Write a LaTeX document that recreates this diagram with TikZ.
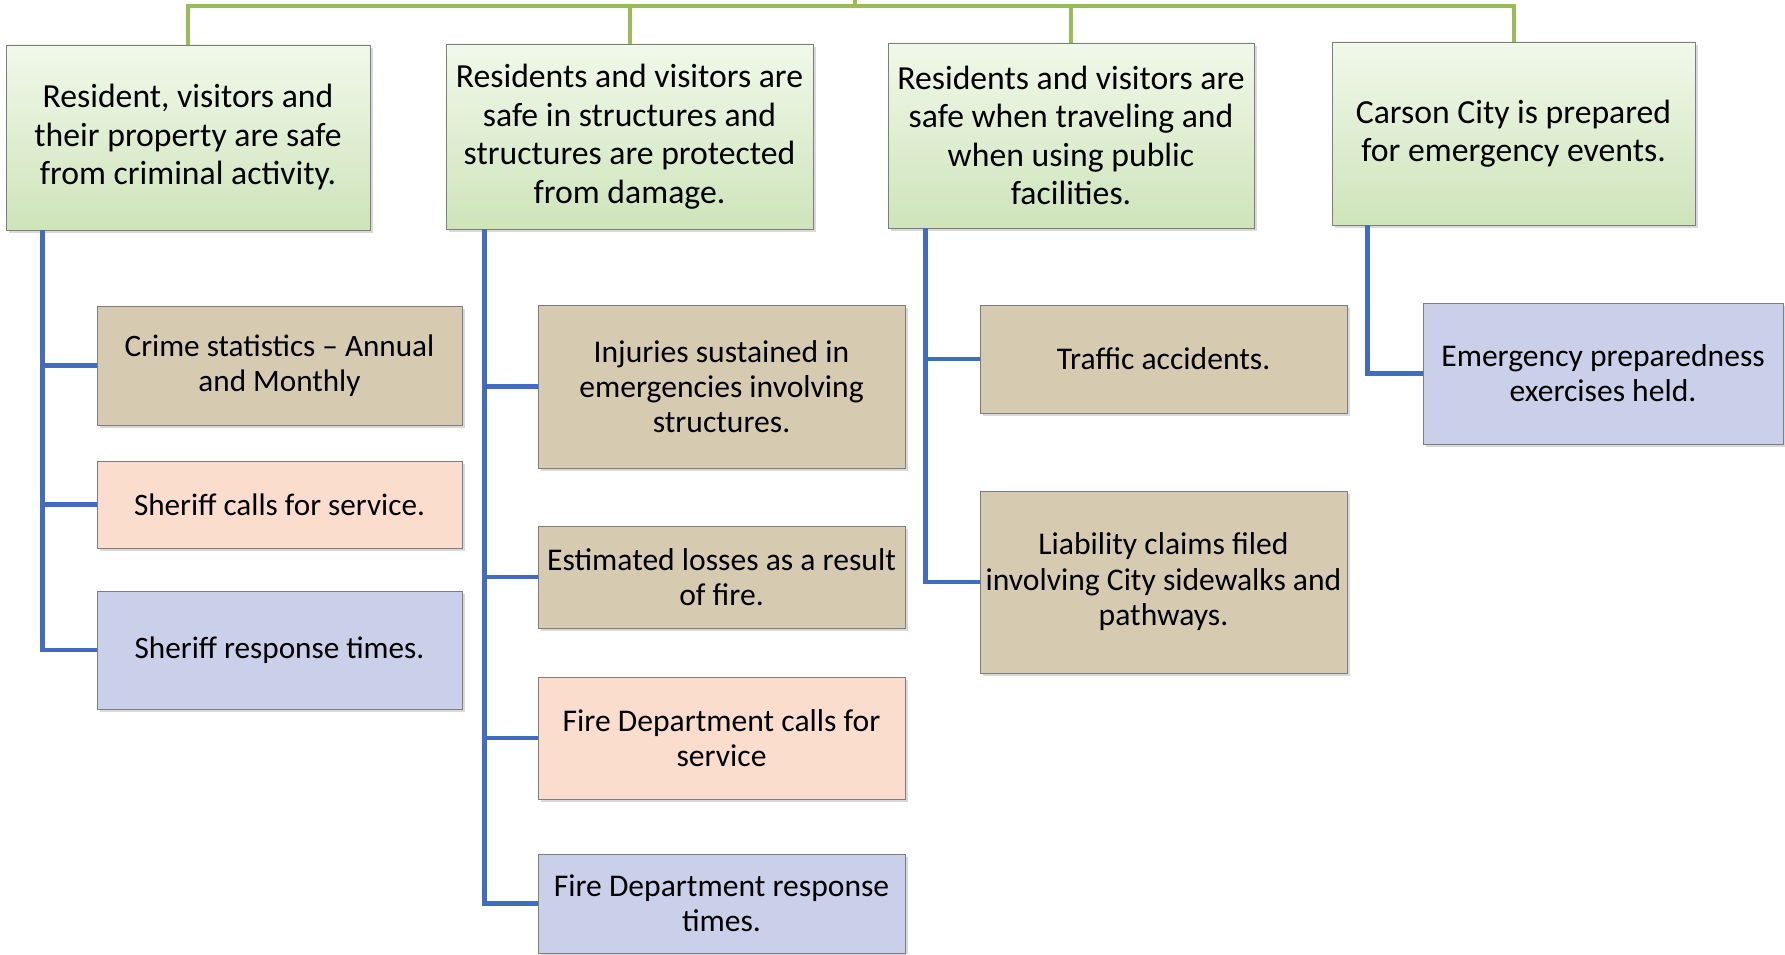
\documentclass[tikz,border=0pt]{standalone}
\usepackage{fontspec}
\setmainfont{Carlito}
\usetikzlibrary{shadows}
\definecolor{gline}{RGB}{155,187,89}
\definecolor{bline}{RGB}{66,108,192}
\definecolor{tanc}{RGB}{214,203,176}
\definecolor{peach}{RGB}{251,221,205}
\definecolor{lav}{RGB}{202,208,233}
\definecolor{gtop}{RGB}{241,248,234}
\definecolor{gbot}{RGB}{206,228,186}
\definecolor{edgec}{RGB}{125,125,125}
\begin{document}
\begin{tikzpicture}[x=1pt,y=-1pt,
  box/.style={draw=edgec, line width=0.8pt, align=center, inner sep=0pt,
    drop shadow={shadow xshift=2.5pt, shadow yshift=-3pt, opacity=0.3}},
  goal/.style={box, top color=gtop, bottom color=gbot,
    font=\fontsize{33.7}{38.5}\selectfont},
  meas/.style={box, font=\fontsize{31.2}{35}\selectfont},
  tanbox/.style={meas, fill=tanc},
  peachbox/.style={meas, fill=peach},
  lavbox/.style={meas, fill=lav},
  gl/.style={draw=gline, line width=4pt},
  bl/.style={draw=bline, line width=4.5pt}]
\useasboundingbox (0,0) rectangle (1785,955);

% level 1
\node[goal, minimum width=364pt, minimum height=185pt] (B1) at (188,137.5)
  {Resident, visitors and\\their property are safe\\from criminal activity.};
\node[goal, minimum width=367pt, minimum height=185pt] (B2) at (629.5,136.5)
  {Residents and visitors are\\safe in structures and\\structures are protected\\from damage.};
\node[goal, minimum width=366pt, minimum height=185pt] (B3) at (1071,135.5)
  {Residents and visitors are\\safe when traveling and\\when using public\\facilities.};
\node[goal, minimum width=363pt, minimum height=183pt] (B4) at (1513.5,133.5)
  {Carson City is prepared\\for emergency events.};

% column 1
\node[tanbox, minimum width=365pt, minimum height=119pt] (C11) at (279.5,365.5)
  {Crime statistics -- Annual\\and Monthly};
\node[peachbox, minimum width=365pt, minimum height=87pt] (C12) at (279.5,504.5)
  {Sheriff calls for service.};
\node[lavbox, minimum width=365pt, minimum height=118pt] (C13) at (279.5,650)
  {Sheriff response times.};

% column 2
\node[tanbox, minimum width=367pt, minimum height=163pt, font=\fontsize{31.6}{35}\selectfont] (C21) at (721.5,386.5)
  {Injuries sustained in\\emergencies involving\\structures.};
\node[tanbox, minimum width=367pt, minimum height=102pt, font=\fontsize{31.6}{35}\selectfont] (C22) at (721.5,577)
  {Estimated losses as a result\\of fire.};
\node[peachbox, minimum width=367pt, minimum height=122pt, font=\fontsize{31.6}{35}\selectfont] (C23) at (721.5,738)
  {Fire Department calls for\\service};
\node[lavbox, minimum width=367pt, minimum height=99pt, font=\fontsize{31.6}{35}\selectfont] (C24) at (721.5,903.5)
  {Fire Department response\\times.};

% column 3
\node[tanbox, minimum width=367pt, minimum height=108pt, font=\fontsize{31.6}{35.5}\selectfont] (C31) at (1163.5,359)
  {Traffic accidents.};
\node[tanbox, minimum width=367pt, minimum height=182pt, font=\fontsize{31.6}{35.5}\selectfont] (C32) at (1163.5,582)
  {Liability claims filed\\involving City sidewalks and\\pathways.};

% column 4
\node[lavbox, minimum width=360pt, minimum height=141pt, font=\fontsize{31.6}{35}\selectfont] (C41) at (1603,373.5)
  {Emergency preparedness\\exercises held.};

% green connectors
\coordinate (root) at (855,6);
\coordinate (rootup) at (855,0);
\draw[gl] (rootup) -- (root);
\foreach \b in {B1,B2,B3,B4} \draw[gl] (\b.north) |- (root);

% blue connectors
\foreach \c in {C11,C12,C13} \draw[bl] ([xshift=37pt]B1.south west) |- (\c.west);
\foreach \c in {C21,C22,C23,C24} \draw[bl] ([xshift=39pt]B2.south west) |- (\c.west);
\foreach \c in {C31,C32} \draw[bl] ([xshift=38pt]B3.south west) |- (\c.west);
\draw[bl] ([xshift=36pt]B4.south west) |- (C41.west);
\end{tikzpicture}
\end{document}
